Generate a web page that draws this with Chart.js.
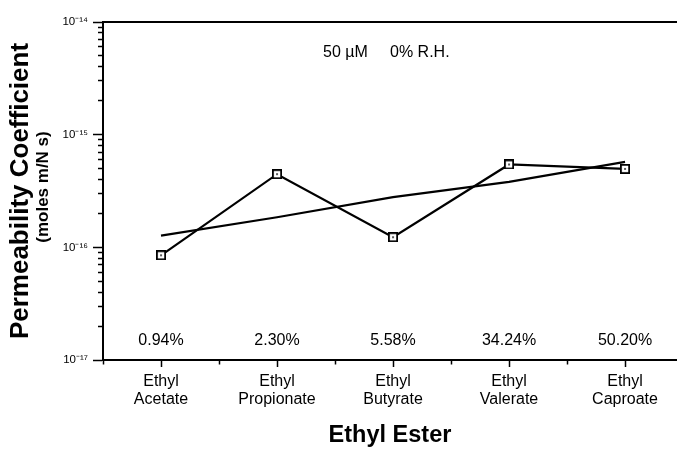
<!DOCTYPE html>
<html>
<head>
<meta charset="utf-8">
<script src="https://cdn.jsdelivr.net/npm/chart.js@4.4.1/dist/chart.umd.min.js"></script>
<style>
html,body{margin:0;padding:0;background:#fff;}
canvas{display:block;}
</style>
</head>
<body>
<canvas id="c" width="677" height="454"></canvas>
<script>
// ---- data ----
const categories = ['Ethyl Acetate', 'Ethyl Propionate', 'Ethyl Butyrate', 'Ethyl Valerate', 'Ethyl Caproate'];
const permeability = [8.5e-17, 4.46e-16, 1.23e-16, 5.44e-16, 4.97e-16];
const trend = [1.27e-16, 1.85e-16, 2.79e-16, 3.81e-16, 5.73e-16];
const percentLabels = ['0.94%', '2.30%', '5.58%', '34.24%', '50.20%'];
const conditionLabels = ['50 \u00B5M', '0% R.H.'];
const yMajorTicks = [1e-17, 1e-16, 1e-15, 1e-14];
const yMinorTicks = [2e-17, 3e-17, 4e-17, 5e-17, 6e-17, 7e-17, 8e-17, 9e-17,
                     2e-16, 3e-16, 4e-16, 5e-16, 6e-16, 7e-16, 8e-16, 9e-16,
                     2e-15, 3e-15, 4e-15, 5e-15, 6e-15, 7e-15, 8e-15, 9e-15];
const xMajorTicks = [0, 1, 2, 3, 4];
const xMinorTicks = [-0.5, 0.5, 1.5, 2.5, 3.5];
const yTitle = 'Permeability Coefficient';
const yUnits = '(moles m/N s)';
const xTitle = 'Ethyl Ester';

// ---- styling ----
const F = "'Liberation Sans', Arial, Helvetica, sans-serif";
const X_MIN = -0.5, X_MAX = 4.448;

const sup = {'-':'\u207B','0':'\u2070','1':'\u00B9','2':'\u00B2','3':'\u00B3','4':'\u2074','5':'\u2075','6':'\u2076','7':'\u2077','8':'\u2078','9':'\u2079'};
function powLabel(v) {
  const e = Math.round(Math.log10(v));
  return '10' + String(e).split('').map(c => sup[c]).join('');
}

// square marker with center dot
const marker = document.createElement('canvas');
marker.width = 10; marker.height = 10;
(function () {
  const m = marker.getContext('2d');
  m.fillStyle = '#fff'; m.fillRect(0, 0, 10, 10);
  m.strokeStyle = '#000'; m.lineWidth = 1.8;
  m.strokeRect(0.9, 0.9, 8.2, 8.2);
  m.fillStyle = '#000'; m.fillRect(4.2, 4.2, 1.6, 1.6);
})();

const noPad = s => { s.paddingLeft = 0; s.paddingRight = 0; };

const annotations = {
  id: 'annotations',
  afterDraw(chart) {
    const {ctx} = chart;
    const x = chart.scales.x;
    ctx.save();
    ctx.fillStyle = '#000';
    ctx.font = '16px ' + F;
    ctx.textAlign = 'center';
    ctx.textBaseline = 'alphabetic';
    percentLabels.forEach((t, i) => ctx.fillText(t, x.getPixelForValue(xMajorTicks[i]), 345));
    ctx.textAlign = 'left';
    ctx.fillText(conditionLabels[0], 323, 57);
    ctx.fillText(conditionLabels[1], 390, 57);
    ctx.translate(43, 187);
    ctx.rotate(-Math.PI / 2);
    ctx.font = 'bold 17px ' + F;
    ctx.textAlign = 'center';
    ctx.textBaseline = 'middle';
    ctx.fillText(yUnits, 0, 0);
    ctx.restore();
  }
};

new Chart(document.getElementById('c'), {
  type: 'line',
  data: {
    datasets: [
      {
        label: 'Permeability',
        data: permeability.map((v, i) => ({x: xMajorTicks[i], y: v})),
        xAxisID: 'x', yAxisID: 'y',
        borderColor: '#000', borderWidth: 2.2, tension: 0,
        pointStyle: marker, pointRadius: 5, pointHoverRadius: 5,
        fill: false
      },
      {
        label: 'Trend',
        data: trend.map((v, i) => ({x: xMajorTicks[i], y: v})),
        xAxisID: 'x', yAxisID: 'y',
        borderColor: '#000', borderWidth: 2.2, tension: 0,
        pointRadius: 0, fill: false
      }
    ]
  },
  options: {
    responsive: false,
    animation: false,
    devicePixelRatio: 1,
    layout: {autoPadding: false, padding: {top: 22, right: 0, bottom: 0, left: 0}},
    plugins: {legend: {display: false}, tooltip: {enabled: false}},
    scales: {
      x: {
        type: 'linear', position: 'bottom', weight: 1,
        min: X_MIN, max: X_MAX, bounds: 'data',
        afterBuildTicks: s => { s.ticks = xMajorTicks.map(v => ({value: v})); },
        afterFit: s => { s.height = 94; noPad(s); },
        ticks: {
          autoSkip: false, maxRotation: 0, padding: 5, color: '#000',
          font: {family: F, size: 16, lineHeight: 1.15},
          callback: v => (Number.isInteger(v) && categories[v]) ? categories[v].split(' ') : ''
        },
        grid: {display: true, drawOnChartArea: false, drawTicks: true, tickLength: 7, tickWidth: 1.5, tickColor: '#000'},
        border: {display: true, color: '#000', width: 2},
        title: {display: true, text: xTitle, color: '#000', font: {family: F, size: 23.5, weight: 'bold'}, padding: {top: 0, bottom: 4}}
      },
      xMinor: {
        type: 'linear', position: 'bottom', weight: 0,
        min: X_MIN, max: X_MAX, bounds: 'data',
        afterBuildTicks: s => { s.ticks = xMinorTicks.map(v => ({value: v})); },
        afterFit: s => { s.height = 0; noPad(s); },
        ticks: {display: false, autoSkip: false},
        grid: {display: true, drawOnChartArea: false, drawTicks: true, tickLength: 4.5, tickWidth: 1.5, tickColor: '#000'},
        border: {display: false}
      },
      xTop: {
        type: 'linear', position: 'top',
        min: X_MIN, max: X_MAX, bounds: 'data',
        afterFit: s => { s.height = 0; noPad(s); },
        ticks: {display: false},
        grid: {display: true, drawOnChartArea: false, drawTicks: false},
        border: {display: true, color: '#000', width: 2}
      },
      y: {
        type: 'logarithmic', position: 'left', weight: 1,
        min: 1e-17, max: 1e-14, bounds: 'data',
        afterBuildTicks: s => { s.ticks = yMajorTicks.map(v => ({value: v, major: true})); },
        afterFit: s => { s.width = 103; },
        ticks: {autoSkip: false, padding: 5, color: '#000', font: {family: F, size: 11.5}, callback: v => powLabel(v)},
        grid: {display: true, drawOnChartArea: false, drawTicks: true, tickLength: 10, tickWidth: 1.5, tickColor: '#000'},
        border: {display: true, color: '#000', width: 2},
        title: {display: true, text: yTitle, color: '#000', font: {family: F, size: 26, weight: 'bold'}, padding: {top: 5, bottom: 0}}
      },
      yMinor: {
        type: 'logarithmic', position: 'left', weight: 0,
        min: 1e-17, max: 1e-14, bounds: 'data',
        afterBuildTicks: s => { s.ticks = yMinorTicks.map(v => ({value: v})); },
        afterFit: s => { s.width = 0; },
        ticks: {display: false, autoSkip: false},
        grid: {display: true, drawOnChartArea: false, drawTicks: true, tickLength: 5, tickWidth: 1.5, tickColor: '#000'},
        border: {display: false}
      }
    }
  },
  plugins: [annotations]
});
</script>
</body>
</html>
